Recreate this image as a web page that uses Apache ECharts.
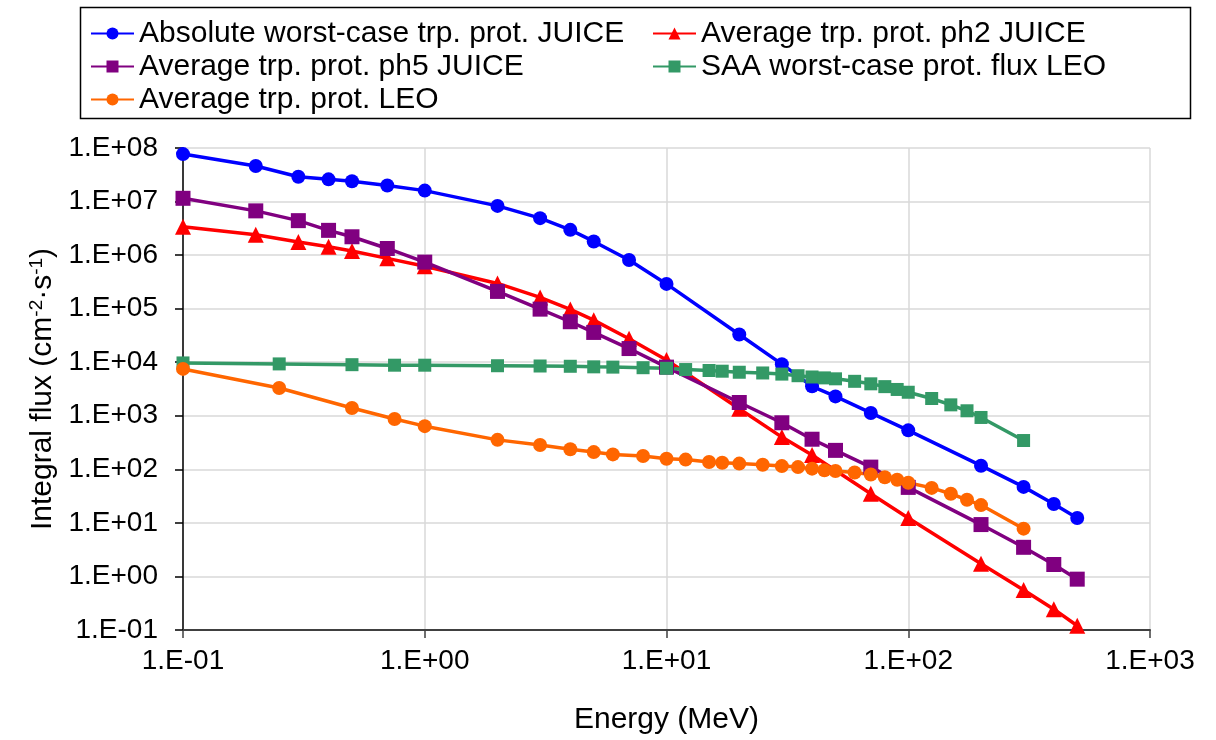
<!DOCTYPE html>
<html>
<head>
<meta charset="utf-8">
<script src="https://cdn.jsdelivr.net/npm/echarts@6/dist/echarts.min.js"></script>
<style>
  html, body { margin: 0; padding: 0; background: #fff; }
  #chart { width: 1216px; height: 740px; }
</style>
</head>
<body>
<div id="chart"></div>
<script>
// energies (MeV)
const energyJuice = [0.1, 0.2, 0.3, 0.4, 0.5, 0.7, 1, 2, 3, 4, 5, 7, 10, 20, 30, 40, 50, 70, 100, 200, 300, 400, 500];
const energyPh2 = [0.1, 0.2, 0.3, 0.4, 0.5, 0.7, 1, 2, 3, 4, 5, 7, 10, 20, 30, 40, 70, 100, 200, 300, 400, 500];
const energyLeo = [0.1, 0.25, 0.5, 0.75, 1, 2, 3, 4, 5, 6, 8, 10, 12, 15, 17, 20, 25, 30, 35, 40, 45, 50, 60, 70, 80, 90, 100, 125, 150, 175, 200, 300];

// integral flux (cm-2 s-1)
const worstJuice = [7.7e7, 4.6e7, 2.9e7, 2.6e7, 2.4e7, 2.0e7, 1.6e7, 8.3e6, 4.9e6, 2.96e6, 1.8e6, 8.1e5, 2.9e5, 3.3e4, 9.2e3, 3.55e3, 2.3e3, 1.13e3, 535, 117, 47, 22.5, 12.3];
const ph2Juice = [3.4e6, 2.4e6, 1.75e6, 1.43e6, 1.19e6, 8.7e5, 6.2e5, 2.96e5, 1.62e5, 9.7e4, 6.1e4, 2.75e4, 1.1e4, 1.35e3, 400, 185, 35, 12.3, 1.73, 0.56, 0.245, 0.12];
const ph5Juice = [1.15e7, 6.7e6, 4.4e6, 2.9e6, 2.2e6, 1.33e6, 7.4e5, 2.1e5, 9.8e4, 5.7e4, 3.6e4, 1.8e4, 8.1e3, 1.77e3, 740, 365, 226, 110, 46, 9.3, 3.5, 1.67, 0.89];
const saaLeo = [9.7e3, 9.3e3, 9.0e3, 8.8e3, 8.8e3, 8.6e3, 8.5e3, 8.4e3, 8.2e3, 8.1e3, 7.9e3, 7.7e3, 7.3e3, 7.0e3, 6.8e3, 6.5e3, 6.3e3, 6.0e3, 5.6e3, 5.3e3, 5.1e3, 4.9e3, 4.4e3, 3.95e3, 3.5e3, 3.1e3, 2.75e3, 2.1e3, 1.6e3, 1.24e3, 930, 345];
const avgLeo = [7.5e3, 3.3e3, 1.4e3, 870, 640, 355, 285, 237, 210, 190, 177, 158, 152, 137, 133, 128, 122, 115, 110, 103, 96, 93, 87, 80, 71, 64, 56, 45, 35, 27, 21.5, 7.8];

const seriesNames = [
  'Absolute worst-case trp. prot. JUICE',
  'Average trp. prot. ph2 JUICE',
  'Average trp. prot. ph5 JUICE',
  'SAA worst-case prot. flux LEO',
  'Average trp. prot. LEO'
];

const FONT = '"Liberation Sans", Arial, sans-serif';

const pairs = (xs, ys) => xs.map((x, i) => [x, ys[i]]);

// 1.E+08 style labels
const sciLabel = v => {
  const e = Math.round(Math.log10(v));
  const s = String(Math.abs(e)).padStart(2, '0');
  return '1.E' + (e < 0 ? '-' : '+') + s;
};

function makeSeries(name, data, color, symbol, size) {
  return {
    name: name,
    type: 'line',
    data: data,
    symbol: symbol,
    symbolSize: size,
    showSymbol: true,
    lineStyle: { color: color, width: 3.5 },
    itemStyle: { color: color },
    emphasis: { disabled: true },
    animation: false
  };
}

const chart = echarts.init(document.getElementById('chart'));

chart.setOption({
  backgroundColor: '#fff',
  textStyle: { fontFamily: FONT },
  grid: { left: 183, right: 66, top: 148, bottom: 110 },
  graphic: [{
    type: 'rect',
    left: 78, top: 5,
    shape: { width: 1110, height: 111 },
    style: { fill: 'none', stroke: '#000', lineWidth: 1.5 },
    z: -1
  }],
  legend: [
    {
      orient: 'vertical', left: 85, top: 12,
      itemWidth: 43, itemHeight: 15, itemGap: 0,
      textStyle: { fontFamily: FONT, fontSize: 30, color: '#000', lineHeight: 33 },
      data: [seriesNames[0], seriesNames[2], seriesNames[4]]
    },
    {
      orient: 'vertical', left: 647, top: 12,
      itemWidth: 43, itemHeight: 15, itemGap: 0,
      textStyle: { fontFamily: FONT, fontSize: 30, color: '#000', lineHeight: 33 },
      data: [seriesNames[1], seriesNames[3]]
    }
  ],
  xAxis: {
    type: 'log',
    logBase: 10,
    min: 0.1,
    max: 1000,
    splitNumber: 4,
    name: 'Energy (MeV)',
    nameLocation: 'middle',
    nameGap: 75,
    nameTextStyle: { fontFamily: FONT, fontSize: 30, color: '#000' },
    axisLine: { onZero: false, lineStyle: { color: '#404040', width: 2 } },
    axisTick: { show: true, length: 8, lineStyle: { color: '#404040', width: 1.5 } },
    axisLabel: { formatter: sciLabel, fontSize: 28, color: '#000', margin: 17 },
    splitLine: { show: true, lineStyle: { color: '#d9d9d9', width: 1.5 } }
  },
  yAxis: {
    type: 'log',
    logBase: 10,
    min: 0.1,
    max: 1e8,
    splitNumber: 9,
    name: 'Integral flux (cm{sup|-2}·s{sup|-1})',
    nameLocation: 'middle',
    nameRotate: 90,
    nameGap: 125,
    nameTextStyle: {
      fontFamily: FONT, fontSize: 30, color: '#000',
      rich: { sup: { fontFamily: FONT, fontSize: 19, color: '#000', verticalAlign: 'top', padding: [0, 0, 12, 0] } }
    },
    axisLine: { onZero: false, lineStyle: { color: '#000', width: 1.5 } },
    axisTick: { show: true, length: 8, lineStyle: { color: '#000', width: 1.5 } },
    axisLabel: { formatter: sciLabel, fontSize: 28, color: '#000', margin: 25 },
    splitLine: { show: true, lineStyle: { color: '#d9d9d9', width: 1.5 } }
  },
  series: [
    makeSeries(seriesNames[0], pairs(energyJuice, worstJuice), '#0000ff', 'circle', 14),
    makeSeries(seriesNames[1], pairs(energyPh2, ph2Juice), '#ff0000', 'triangle', 16),
    makeSeries(seriesNames[2], pairs(energyJuice, ph5Juice), '#800080', 'rect', 15),
    makeSeries(seriesNames[3], pairs(energyLeo, saaLeo), '#339966', 'rect', 13),
    makeSeries(seriesNames[4], pairs(energyLeo, avgLeo), '#ff6600', 'circle', 14)
  ]
});

window.addEventListener('resize', () => chart.resize());
</script>
</body>
</html>
